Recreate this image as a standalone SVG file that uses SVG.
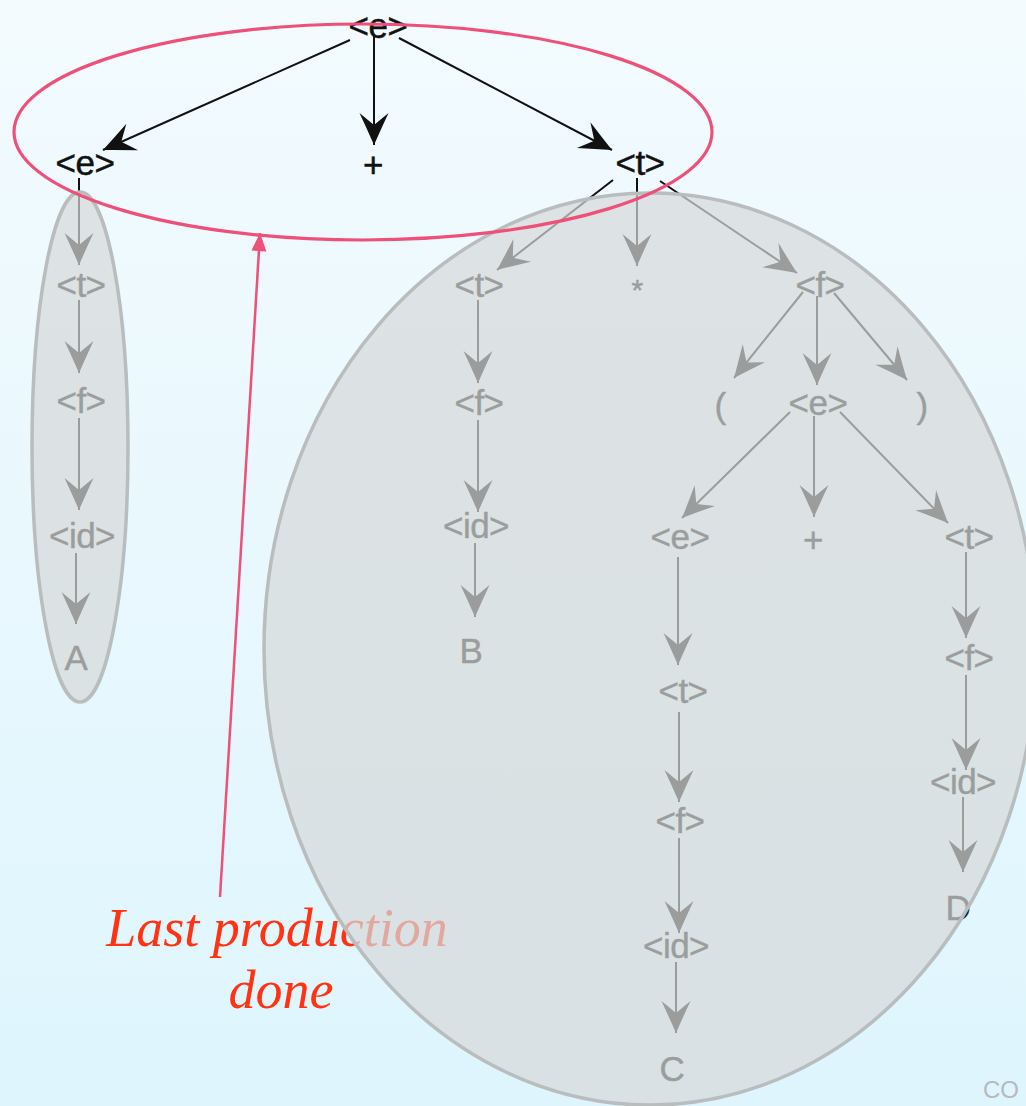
<svg xmlns="http://www.w3.org/2000/svg" width="1026" height="1106" viewBox="0 0 1026 1106">
  <defs>
    <linearGradient id="bg" x1="0" y1="0" x2="0" y2="1">
      <stop offset="0" stop-color="#f3fbfe"/>
      <stop offset="1" stop-color="#def5fd"/>
    </linearGradient>
    <marker id="ah" markerUnits="userSpaceOnUse" markerWidth="36" markerHeight="32" viewBox="-34 -16 36 32" refX="0" refY="0" orient="auto">
      <path d="M0,0 Q-16,-7 -32,-14.5 L-20,0 L-32,14.5 Q-16,7 0,0 Z" fill="#111"/>
    </marker>
    <marker id="pah" markerUnits="userSpaceOnUse" markerWidth="20" markerHeight="18" viewBox="-19 -9 20 18" refX="0" refY="0" orient="auto">
      <path d="M0,0 L-18,-7.5 L-18,7.5 Z" fill="#ee5079"/>
    </marker>
    <style>
      .lbl { font-family: "Liberation Sans", Arial, sans-serif; font-size: 35px; letter-spacing: -0.5px; fill: #111; stroke: #111; stroke-width: 0.5px; text-anchor: middle; }
      .edge { stroke: #111; stroke-width: 2; fill: none; marker-end: url(#ah); }
      .shade { fill: #d6d8d9; fill-opacity: 0.7; stroke: #b9bdbd; stroke-width: 3.5; }
      .note { font-family: "Liberation Serif", "Times New Roman", serif; font-style: italic; font-size: 54px; fill: #ff3311; text-anchor: middle; }
    </style>
  </defs>
  <rect x="0" y="0" width="1026" height="1106" fill="url(#bg)"/>

  <g id="note">
    <text class="note" x="277" y="946">Last production</text>
    <text class="note" x="281" y="1008">done</text>
  </g>

  <g id="connectors">
    <path class="edge" d="M350,40 L103,150"/>
    <path class="edge" d="M374,36 L374,145"/>
    <path class="edge" d="M399,38 L612,150"/>
    <path class="edge" d="M79,178 L79,265"/>
    <path class="edge" d="M79,300 L79,373"/>
    <path class="edge" d="M79,418 L79,510"/>
    <path class="edge" d="M76,553 L76,624"/>
    <path class="edge" d="M613,180 L497,270"/>
    <path class="edge" d="M637,178 L637,266"/>
    <path class="edge" d="M660,181 L797,273"/>
    <path class="edge" d="M478,300 L478,383"/>
    <path class="edge" d="M478,420 L478,512"/>
    <path class="edge" d="M475,543 L475,617"/>
    <path class="edge" d="M803,292 L734,378"/>
    <path class="edge" d="M817,296 L817,385"/>
    <path class="edge" d="M834,293 L907,380"/>
    <path class="edge" d="M790,412 L682,518"/>
    <path class="edge" d="M814,416 L814,517"/>
    <path class="edge" d="M840,412 L948,523"/>
    <path class="edge" d="M678,557 L678,665"/>
    <path class="edge" d="M966,552 L966,638"/>
    <path class="edge" d="M679,712 L679,802"/>
    <path class="edge" d="M679,838 L679,933"/>
    <path class="edge" d="M676,962 L676,1033"/>
    <path class="edge" d="M966,675 L966,770"/>
    <path class="edge" d="M963,797 L963,872"/>
  </g>

  <g id="n-root"><text class="lbl" x="378" y="38">&lt;e&gt;</text></g>
  <g id="n-e1"><text class="lbl" x="85" y="175">&lt;e&gt;</text></g>
  <g id="n-plus1"><text class="lbl" x="373" y="177">+</text></g>
  <g id="n-t1"><text class="lbl" x="640" y="175">&lt;t&gt;</text></g>
  <g id="n-tA"><text class="lbl" x="81" y="297">&lt;t&gt;</text></g>
  <g id="n-fA"><text class="lbl" x="81" y="413">&lt;f&gt;</text></g>
  <g id="n-idA"><text class="lbl" x="82" y="548">&lt;id&gt;</text></g>
  <g id="n-A"><text class="lbl" x="76" y="670">A</text></g>
  <g id="n-t2"><text class="lbl" x="479" y="297">&lt;t&gt;</text></g>
  <g id="n-star"><text class="lbl" x="637" y="300" style="font-size:30px">*</text></g>
  <g id="n-f2"><text class="lbl" x="820" y="297">&lt;f&gt;</text></g>
  <g id="n-f3"><text class="lbl" x="479" y="415">&lt;f&gt;</text></g>
  <g id="n-idB"><text class="lbl" x="476" y="538">&lt;id&gt;</text></g>
  <g id="n-B"><text class="lbl" x="471" y="663">B</text></g>
  <g id="n-lp"><text class="lbl" x="720" y="418">(</text></g>
  <g id="n-e2"><text class="lbl" x="818" y="415">&lt;e&gt;</text></g>
  <g id="n-rp"><text class="lbl" x="922" y="418">)</text></g>
  <g id="n-e3"><text class="lbl" x="680" y="549">&lt;e&gt;</text></g>
  <g id="n-plus2"><text class="lbl" x="813" y="552">+</text></g>
  <g id="n-t3"><text class="lbl" x="969" y="549">&lt;t&gt;</text></g>
  <g id="n-t4"><text class="lbl" x="683" y="703">&lt;t&gt;</text></g>
  <g id="n-f4"><text class="lbl" x="969" y="670">&lt;f&gt;</text></g>
  <g id="n-f5"><text class="lbl" x="680" y="833">&lt;f&gt;</text></g>
  <g id="n-idD"><text class="lbl" x="963" y="794">&lt;id&gt;</text></g>
  <g id="n-idC"><text class="lbl" x="676" y="958">&lt;id&gt;</text></g>
  <g id="n-D"><text class="lbl" x="958" y="920">D</text></g>
  <g id="n-C"><text class="lbl" x="672" y="1081">C</text></g>

  <g id="shade-left"><ellipse class="shade" cx="80" cy="447" rx="48" ry="255"/></g>
  <g id="shade-right"><ellipse class="shade" cx="650" cy="649" rx="386" ry="456"/></g>

  <g id="highlight">
    <ellipse cx="363" cy="132" rx="349" ry="108" fill="none" stroke="#ee5079" stroke-width="3.2"/>
    <path d="M220,897 L260,233" stroke="#ee5079" stroke-width="2.5" fill="none" marker-end="url(#pah)"/>
  </g>

  <text x="983" y="1098" font-family="'Liberation Sans', Arial, sans-serif" font-size="24" fill="#b6babd">CO</text>
</svg>
